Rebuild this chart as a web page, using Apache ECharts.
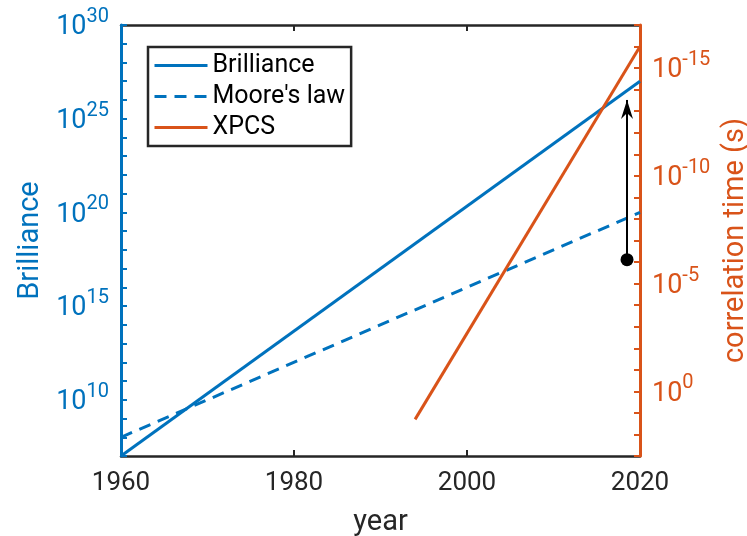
<!DOCTYPE html>
<html>
<head>
<meta charset="utf-8">
<script src="https://cdn.jsdelivr.net/npm/echarts@6/dist/echarts.min.js"></script>
<style>
  html, body { margin: 0; padding: 0; background: #fff; }
  #chart { width: 747px; height: 536px; }
</style>
</head>
<body>
<div id="chart"></div>
<script>
// Growth of X-ray brilliance vs. Moore's law, with XPCS correlation times
const brillianceYears = [1960, 2020];
const brillianceValues = [1e7, 1e27];
const mooreYears = [1960, 2020];
const mooreValues = [1e8, 1e20];
const xpcsYears = [1994, 2020];
const xpcsTimes = [20, 1e-16];          // seconds
const arrowYear = [2018.5, 2018.5];
const arrowValues = [3e17, 1e26];       // on the brilliance axis: dot, then arrow tip
const xTickLabels = [1960, 1980, 2000, 2020];
const brillianceTickLabels = [1e10, 1e15, 1e20, 1e25, 1e30];
const timeTickLabels = [1e-15, 1e-10, 1e-5, 1e0];

const BLUE = '#0072BD';
const ORANGE = '#D95319';
const DARK = '#262626';
const FONT = 'Roboto';
const ARROW_HEAD = 'path://M6,0 L12,19 L6,13 L0,19 Z';

function pairs(xs, ys) { return xs.map((x, i) => [x, ys[i]]); }

// "10" followed by a raised exponent, only on the labelled decades
function powLabel(list) {
  const exps = list.map(v => Math.round(Math.log10(v)));
  return function (value) {
    const e = Math.round(Math.log10(value));
    if (exps.indexOf(e) < 0) return '';
    return '{b|10}{s|' + e + '}';
  };
}
function richFor(color) {
  return {
    b: { fontSize: 27, lineHeight: 27, verticalAlign: 'bottom', color: color, fontFamily: FONT },
    s: { fontSize: 20, lineHeight: 48, verticalAlign: 'middle', color: color, fontFamily: FONT }
  };
}

const chart = echarts.init(document.getElementById('chart'), null, { renderer: 'canvas' });

chart.setOption({
  animation: false,
  backgroundColor: '#fff',
  textStyle: { fontFamily: FONT },
  grid: { left: 121, right: 107, top: 25, bottom: 80, containLabel: false, outerBoundsMode: 'none' },
  legend: {
    orient: 'vertical',
    left: 148, top: 47,
    padding: [3, 6, 3, 5],
    itemGap: 0,
    itemWidth: 53, itemHeight: 14,
    borderColor: DARK, borderWidth: 2.5, borderRadius: 0,
    backgroundColor: '#fff',
    itemStyle: { opacity: 0 },
    lineStyle: { width: 3 },
    textStyle: { fontSize: 25, lineHeight: 31, color: '#000', fontFamily: FONT },
    data: ['Brilliance', "Moore's law", 'XPCS']
  },
  xAxis: [
    {
      type: 'value', position: 'bottom', min: 1960, max: 2020, interval: 20,
      name: 'year', nameLocation: 'middle', nameGap: 52,
      nameTextStyle: { fontSize: 29, color: DARK, fontFamily: FONT },
      axisLine: { show: true, lineStyle: { color: DARK, width: 2.5 } },
      axisTick: { show: true, inside: true, length: 6, lineStyle: { color: DARK, width: 2 } },
      axisLabel: {
        color: DARK, fontSize: 26, margin: 14, fontFamily: FONT,
        formatter: v => (xTickLabels.indexOf(v) >= 0 ? String(v) : '')
      },
      splitLine: { show: false }, z: 2
    },
    {
      type: 'value', position: 'top', min: 1960, max: 2020, interval: 20,
      axisLine: { show: true, lineStyle: { color: DARK, width: 2.5 } },
      axisTick: { show: true, inside: true, length: 6, lineStyle: { color: DARK, width: 2 } },
      axisLabel: { show: false },
      splitLine: { show: false }, z: 2
    }
  ],
  yAxis: [
    {
      type: 'log', logBase: 10, position: 'left', min: 1e7, max: 1e30, splitNumber: 23, interval: 1,
      name: 'Brilliance', nameLocation: 'middle', nameGap: 74, nameRotate: 90,
      nameTextStyle: { fontSize: 29, color: BLUE, fontFamily: FONT },
      axisLine: { show: true, lineStyle: { color: BLUE, width: 3 } },
      axisTick: { show: true, inside: true, length: 6, lineStyle: { color: BLUE, width: 2 } },
      axisLabel: { margin: 12, padding: [0, 0, 16, 0], formatter: powLabel(brillianceTickLabels), rich: richFor(BLUE) },
      minorTick: { show: false },
      splitLine: { show: false }, z: 3
    },
    {
      type: 'log', logBase: 10, position: 'right', inverse: true, min: 1e-17, max: 1e3, splitNumber: 20, interval: 1,
      name: 'correlation time (s)', nameLocation: 'middle', nameGap: 78, nameRotate: 90,
      nameTextStyle: { fontSize: 29, color: ORANGE, fontFamily: FONT },
      axisLine: { show: true, lineStyle: { color: ORANGE, width: 3 } },
      axisTick: { show: true, inside: true, length: 6, lineStyle: { color: ORANGE, width: 2 } },
      axisLabel: { margin: 12, padding: [0, 0, 16, 0], formatter: powLabel(timeTickLabels), rich: richFor(ORANGE) },
      minorTick: { show: false },
      splitLine: { show: false }, z: 3
    }
  ],
  series: [
    {
      name: 'Brilliance', type: 'line', xAxisIndex: 0, yAxisIndex: 0,
      data: pairs(brillianceYears, brillianceValues),
      symbol: 'none', color: BLUE,
      lineStyle: { color: BLUE, width: 3 }
    },
    {
      name: "Moore's law", type: 'line', xAxisIndex: 0, yAxisIndex: 0,
      data: pairs(mooreYears, mooreValues),
      symbol: 'none', color: BLUE,
      lineStyle: { color: BLUE, width: 3, type: [12, 8] }
    },
    {
      name: 'XPCS', type: 'line', xAxisIndex: 0, yAxisIndex: 1,
      data: pairs(xpcsYears, xpcsTimes),
      symbol: 'none', color: ORANGE,
      lineStyle: { color: ORANGE, width: 3 }
    },
    {
      // black annotation: dot at the tail, filled head at the tip
      name: 'gain', type: 'line', xAxisIndex: 0, yAxisIndex: 0,
      silent: true, showSymbol: true, color: '#000',
      lineStyle: { color: '#000', width: 2 },
      itemStyle: { color: '#000' },
      data: [
        { value: [arrowYear[0], arrowValues[0]], symbol: 'circle', symbolSize: 13 },
        { value: [arrowYear[1], arrowValues[1]], symbol: ARROW_HEAD, symbolSize: [12, 19], symbolOffset: [0, '50%'] }
      ],
      z: 5
    }
  ]
});
</script>
</body>
</html>
